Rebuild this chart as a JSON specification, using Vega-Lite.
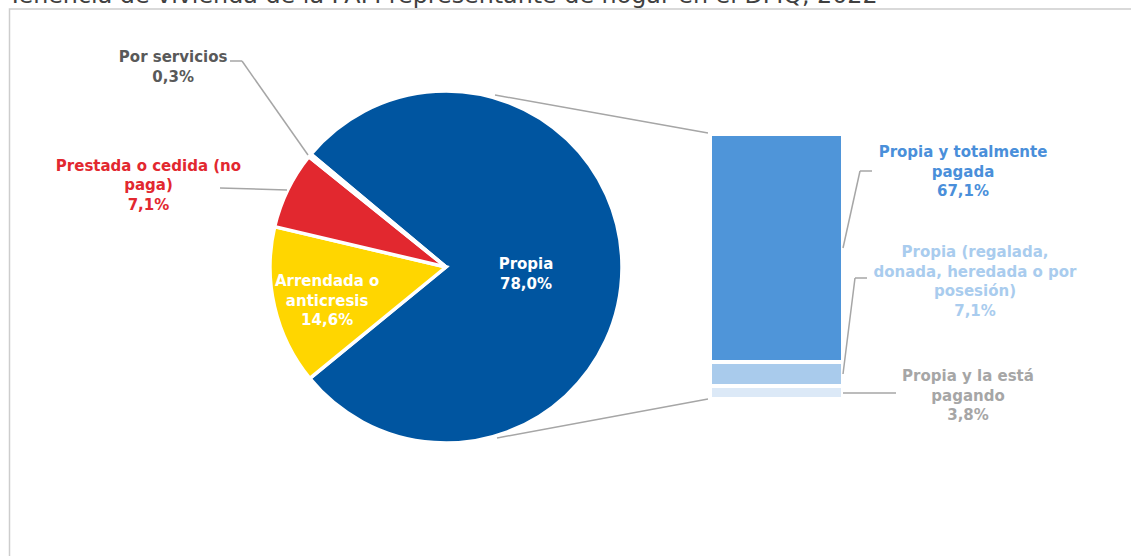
{
  "$schema": "https://vega.github.io/schema/vega-lite/v6.json",
  "width": 1131,
  "height": 556,
  "padding": 0,
  "autosize": {"type": "none"},
  "background": "white",
  "config": {
    "view": {"stroke": null},
    "text": {"font": "DejaVu Sans", "fontWeight": "bold", "fontSize": 15, "lineBreak": "\n", "lineHeight": 19.5, "align": "center", "baseline": "middle"},
    "rule": {"color": "#A6A6A6", "strokeWidth": 1.5}
  },
  "datasets": {
    "tenencia": [
      {"categoria": "Propia", "porcentaje": 78.0, "orden": 1, "etiqueta": "Propia\n78,0%"},
      {"categoria": "Arrendada o anticresis", "porcentaje": 14.6, "orden": 2, "etiqueta": "Arrendada o\nanticresis\n14,6%"},
      {"categoria": "Prestada o cedida (no paga)", "porcentaje": 7.1, "orden": 3, "etiqueta": "Prestada o cedida (no\npaga)\n7,1%"},
      {"categoria": "Por servicios", "porcentaje": 0.3, "orden": 4, "etiqueta": "Por servicios\n0,3%"}
    ],
    "propia": [
      {"categoria": "Propia y la está pagando", "porcentaje": 3.8, "orden": 1, "etiqueta": "Propia y la está\npagando\n3,8%"},
      {"categoria": "Propia (regalada, donada, heredada o por posesión)", "porcentaje": 7.1, "orden": 2, "etiqueta": "Propia (regalada,\ndonada, heredada o por\nposesión)\n7,1%"},
      {"categoria": "Propia y totalmente pagada", "porcentaje": 67.1, "orden": 3, "etiqueta": "Propia y totalmente\npagada\n67,1%"}
    ]
  },
  "layer": [
    {
      "data": {"values": [{}]},
      "mark": {"type": "rect", "x": 9.5, "y": 9, "x2": 1300, "y2": 700, "fill": "transparent", "stroke": "#CDCDCD", "strokeWidth": 1.5}
    },
    {
      "data": {"values": [{}]},
      "mark": {"type": "text", "text": "Tenencia de vivienda de la PAM representante de hogar en el DMQ, 2022", "x": 8, "y": 3, "align": "left", "baseline": "alphabetic", "font": "DejaVu Sans", "fontWeight": "normal", "fontSize": 23.8, "color": "#404040"}
    },
    {"data": {"values": [{}]}, "mark": {"type": "rule"}, "encoding": {"x": {"value": 495}, "y": {"value": 95}, "x2": {"value": 708}, "y2": {"value": 133}}},
    {"data": {"values": [{}]}, "mark": {"type": "rule"}, "encoding": {"x": {"value": 497}, "y": {"value": 438}, "x2": {"value": 708}, "y2": {"value": 399}}},
    {
      "data": {"name": "tenencia"},
      "mark": {"type": "arc", "x": 446, "y": 267, "outerRadius": 176, "stroke": "white", "strokeWidth": 3.5},
      "encoding": {
        "theta": {"field": "porcentaje", "type": "quantitative", "stack": true, "scale": {"range": [-0.8744, 5.4088]}},
        "order": {"field": "orden", "type": "quantitative", "sort": "ascending"},
        "color": {"field": "categoria", "type": "nominal", "legend": null,
          "scale": {"domain": ["Propia", "Arrendada o anticresis", "Prestada o cedida (no paga)", "Por servicios", "Propia y totalmente pagada", "Propia (regalada, donada, heredada o por posesión)", "Propia y la está pagando"],
                    "range": ["#0055A0", "#FFD600", "#E2282F", "#A6A6A6", "#4F95D9", "#A9CBEC", "#DCE9F7"]}}
      }
    },
    {
      "data": {"name": "tenencia"},
      "mark": {"type": "text", "x": 446, "y": 267, "radius": 80, "dy": -3.4, "color": "white"},
      "encoding": {
        "theta": {"field": "porcentaje", "type": "quantitative", "stack": true, "scale": {"range": [-0.8744, 5.4088]}},
        "order": {"field": "orden", "type": "quantitative", "sort": "ascending"},
        "detail": {"field": "categoria", "type": "nominal"},
        "text": {"condition": {"test": "datum.categoria === 'Propia'", "field": "etiqueta"}, "value": ""}
      }
    },
    {
      "data": {"name": "tenencia"},
      "mark": {"type": "text", "x": 446, "y": 267, "radius": 122, "dy": -13, "color": "white"},
      "encoding": {
        "theta": {"field": "porcentaje", "type": "quantitative", "stack": true, "scale": {"range": [-0.8744, 5.4088]}},
        "order": {"field": "orden", "type": "quantitative", "sort": "ascending"},
        "detail": {"field": "categoria", "type": "nominal"},
        "text": {"condition": {"test": "datum.categoria === 'Arrendada o anticresis'", "field": "etiqueta"}, "value": ""}
      }
    },
    {
      "data": {"name": "tenencia"},
      "mark": {"type": "text", "x": 446, "y": 267, "radius": 300, "dx": -28, "dy": 30.7, "color": "#E2282F"},
      "encoding": {
        "theta": {"field": "porcentaje", "type": "quantitative", "stack": true, "scale": {"range": [-0.8744, 5.4088]}},
        "order": {"field": "orden", "type": "quantitative", "sort": "ascending"},
        "detail": {"field": "categoria", "type": "nominal"},
        "text": {"condition": {"test": "datum.categoria === 'Prestada o cedida (no paga)'", "field": "etiqueta"}, "value": ""}
      }
    },
    {
      "data": {"name": "tenencia"},
      "mark": {"type": "text", "x": 446, "y": 267, "radius": 340, "dx": -10, "dy": 5.7, "color": "#595959"},
      "encoding": {
        "theta": {"field": "porcentaje", "type": "quantitative", "stack": true, "scale": {"range": [-0.8744, 5.4088]}},
        "order": {"field": "orden", "type": "quantitative", "sort": "ascending"},
        "detail": {"field": "categoria", "type": "nominal"},
        "text": {"condition": {"test": "datum.categoria === 'Por servicios'", "field": "etiqueta"}, "value": ""}
      }
    },
    {"data": {"values": [{}]}, "mark": {"type": "rule"}, "encoding": {"x": {"value": 230}, "y": {"value": 61}, "x2": {"value": 242}, "y2": {"value": 61}}},
    {"data": {"values": [{}]}, "mark": {"type": "rule"}, "encoding": {"x": {"value": 242}, "y": {"value": 61}, "x2": {"value": 308}, "y2": {"value": 155}}},
    {"data": {"values": [{}]}, "mark": {"type": "rule"}, "encoding": {"x": {"value": 220}, "y": {"value": 188}, "x2": {"value": 287}, "y2": {"value": 190}}},
    {
      "data": {"name": "propia"},
      "mark": {"type": "bar", "orient": "vertical", "stroke": "white", "strokeWidth": 4},
      "encoding": {
        "x": {"value": 710},
        "x2": {"value": 843},
        "y": {"field": "porcentaje", "type": "quantitative", "stack": "zero", "axis": null, "scale": {"domain": [-46.21, 117.44], "nice": false, "zero": false}},
        "order": {"field": "orden", "type": "quantitative", "sort": "ascending"},
        "color": {"field": "categoria", "type": "nominal", "legend": null,
          "scale": {"domain": ["Propia", "Arrendada o anticresis", "Prestada o cedida (no paga)", "Por servicios", "Propia y totalmente pagada", "Propia (regalada, donada, heredada o por posesión)", "Propia y la está pagando"],
                    "range": ["#0055A0", "#FFD600", "#E2282F", "#A6A6A6", "#4F95D9", "#A9CBEC", "#DCE9F7"]}}
      }
    },
    {
      "data": {"name": "propia"},
      "mark": {"type": "text", "x": 963, "dy": -95.5, "color": "#4A8FDA"},
      "encoding": {
        "y": {"field": "porcentaje", "type": "quantitative", "stack": "zero", "bandPosition": 0.5, "axis": null, "scale": {"domain": [-46.21, 117.44], "nice": false, "zero": false}},
        "order": {"field": "orden", "type": "quantitative", "sort": "ascending"},
        "detail": {"field": "categoria", "type": "nominal"},
        "text": {"condition": {"test": "datum.categoria === 'Propia y totalmente pagada'", "field": "etiqueta"}, "value": ""}
      }
    },
    {
      "data": {"name": "propia"},
      "mark": {"type": "text", "x": 975, "dy": -122, "color": "#A9CCEE"},
      "encoding": {
        "y": {"field": "porcentaje", "type": "quantitative", "stack": "zero", "bandPosition": 0.5, "axis": null, "scale": {"domain": [-46.21, 117.44], "nice": false, "zero": false}},
        "order": {"field": "orden", "type": "quantitative", "sort": "ascending"},
        "detail": {"field": "categoria", "type": "nominal"},
        "text": {"condition": {"test": "datum.categoria === 'Propia (regalada, donada, heredada o por posesión)'", "field": "etiqueta"}, "value": ""}
      }
    },
    {
      "data": {"name": "propia"},
      "mark": {"type": "text", "x": 968, "dy": -16.5, "color": "#A6A6A6"},
      "encoding": {
        "y": {"field": "porcentaje", "type": "quantitative", "stack": "zero", "bandPosition": 0.5, "axis": null, "scale": {"domain": [-46.21, 117.44], "nice": false, "zero": false}},
        "order": {"field": "orden", "type": "quantitative", "sort": "ascending"},
        "detail": {"field": "categoria", "type": "nominal"},
        "text": {"condition": {"test": "datum.categoria === 'Propia y la está pagando'", "field": "etiqueta"}, "value": ""}
      }
    },
    {"data": {"values": [{}]}, "mark": {"type": "rule"}, "encoding": {"x": {"value": 843}, "y": {"value": 248}, "x2": {"value": 860}, "y2": {"value": 171}}},
    {"data": {"values": [{}]}, "mark": {"type": "rule"}, "encoding": {"x": {"value": 860}, "y": {"value": 171}, "x2": {"value": 872}, "y2": {"value": 171}}},
    {"data": {"values": [{}]}, "mark": {"type": "rule"}, "encoding": {"x": {"value": 843}, "y": {"value": 374}, "x2": {"value": 855}, "y2": {"value": 278}}},
    {"data": {"values": [{}]}, "mark": {"type": "rule"}, "encoding": {"x": {"value": 855}, "y": {"value": 278}, "x2": {"value": 867}, "y2": {"value": 278}}},
    {"data": {"values": [{}]}, "mark": {"type": "rule"}, "encoding": {"x": {"value": 843}, "y": {"value": 393}, "x2": {"value": 896}, "y2": {"value": 393}}}
  ]
}
